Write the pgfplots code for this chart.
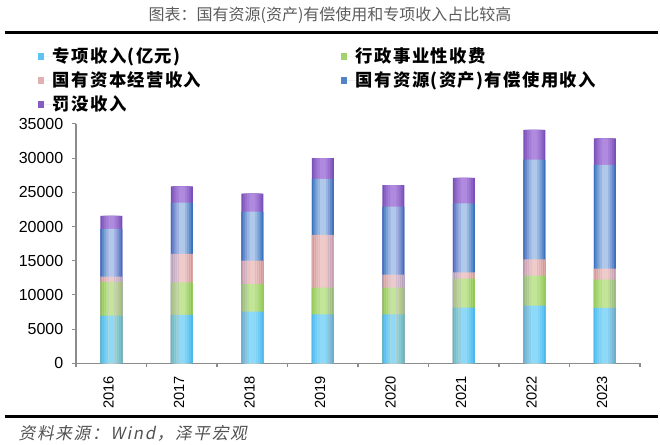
\documentclass[border=0pt]{standalone}
\usepackage{pgfplots}
\pgfplotsset{compat=1.18}
\usepackage{fontspec}
\setmainfont{Liberation Sans}
\newfontfamily\cjk{Noto Sans CJK SC}
\newfontfamily\cjkleg[LetterSpace=8]{Noto Sans CJK SC}
\newfontfamily\cjksrc[FakeSlant=0.2,LetterSpace=10]{Noto Sans CJK SC}
\definecolor{lbE}{HTML}{4DB8EC}\definecolor{lbC}{HTML}{8ED9F8}
\definecolor{grE}{HTML}{95CC5C}\definecolor{grC}{HTML}{C2E598}
\definecolor{pkE}{HTML}{DBA6A6}\definecolor{pkC}{HTML}{EECACA}
\definecolor{blE}{HTML}{3A72BE}\definecolor{blC}{HTML}{B0C9EA}
\definecolor{puE}{HTML}{7A50B8}\definecolor{puC}{HTML}{B08ADF}
\definecolor{axgray}{HTML}{8C8C8C}
\definecolor{txt}{HTML}{333333}
% bar tops (cumulative values)
\pgfplotstableread{
x a b c d e
0 6970 11900 12680 19650 21550
1 7070 11850 15990 23500 25890
2 7560 11560 15020 22180 24820
3 7170 11070 18770 26960 29990
4 7170 11070 12970 22920 26040
5 8140 12380 13310 23400 27110
6 8430 12820 15210 29790 34130
7 8090 12240 13850 29010 32910
}\datatable
\newcommand{\layer}[2]{% #1 width, #2 mix fraction of centre colour
  \addplot[forget plot, bar width=#1, bar shift=0pt, fill=puC!#2!puE] table[x=x,y=e]{\datatable};
  \addplot[forget plot, bar width=#1, bar shift=0pt, fill=blC!#2!blE] table[x=x,y=d]{\datatable};
  \addplot[forget plot, bar width=#1, bar shift=0pt, fill=pkC!#2!pkE] table[x=x,y=c]{\datatable};
  \addplot[forget plot, bar width=#1, bar shift=0pt, fill=grC!#2!grE] table[x=x,y=b]{\datatable};
  \addplot[forget plot, bar width=#1, bar shift=0pt, fill=lbC!#2!lbE] table[x=x,y=a]{\datatable};
}
\begin{document}
\begin{tikzpicture}
\path[use as bounding box] (0pt,0pt) rectangle (495pt,333.75pt);
\node[text=txt!80, font=\cjk\fontsize{12pt}{14pt}\selectfont] at (247.5pt,322.5pt) {图表：国有资源(资产)有偿使用和专项收入占比较高};
\fill[black] (4pt,308.25pt) rectangle (493.5pt,310.5pt);
\fill[black] (4pt,20.25pt) rectangle (493.5pt,22.5pt);
\node[anchor=west, text=txt!85, font=\cjksrc\fontsize{12.5pt}{14pt}\selectfont] at (10.5pt,9pt) {资料来源：Wind，泽平宏观};
\begin{axis}[
  at={(57pt,61.275pt)}, anchor=south west,
  scale only axis, width=423pt, height=179.5pt,
  ybar,
  xmin=-0.5, xmax=7.5, ymin=0, ymax=35000,
  axis lines*=left,
  axis line style={draw=axgray, line width=0.8pt},
  xtick={-0.5,0.5,...,7.5}, xticklabels={},
  extra x ticks={0,1,...,7},
  extra x tick labels={2016,2017,2018,2019,2020,2021,2022,2023},
  extra x tick style={major tick length=0pt, xticklabel style={xshift=-2pt, yshift=-6pt, rotate=90, anchor=east, font=\fontsize{11pt}{12pt}\selectfont, text=black}},
  ytick={0,5000,...,35000},
  scaled y ticks=false,
  tick align=outside, major tick length=3pt,
  tick style={draw=axgray, line width=0.8pt},
  yticklabel style={font=\fontsize{12pt}{13pt}\selectfont, text=black, xshift=-3pt},
  /pgf/number format/assume math mode=true,
  /pgf/number format/1000 sep={},
  legend columns=2,
  legend cell align=left,
  legend image code/.code={\fill[#1] (0pt,-3pt) rectangle (4.5pt,2.5pt); \path (0pt,0pt) -- (11.25pt,0pt);},
  legend style={draw=none, fill=none, at={(-0.068,1.334)}, anchor=north west,
    inner sep=0pt, column sep=0pt, row sep=0pt,
    nodes={inner sep=0pt, text width=216pt, minimum height=18pt, align=left, font=\cjkleg\bfseries\fontsize{13pt}{14pt}\selectfont, text=black}},
  every axis plot/.append style={draw=none},
]
\addlegendimage{fill=lbE!70!lbC}\addlegendentry{专项收入(亿元)}
\addlegendimage{fill=grE!70!grC}\addlegendentry{行政事业性收费}
\addlegendimage{fill=pkE!70!pkC}\addlegendentry{国有资本经营收入}
\addlegendimage{fill=blE!80!blC}\addlegendentry{国有资源(资产)有偿使用收入}
\addlegendimage{fill=puE!80!puC}\addlegendentry{罚没收入}
\layer{16.5pt}{0}
\layer{14pt}{30}
\layer{11pt}{55}
\layer{8pt}{78}
\layer{4.5pt}{100}
\end{axis}
\end{tikzpicture}
\end{document}
